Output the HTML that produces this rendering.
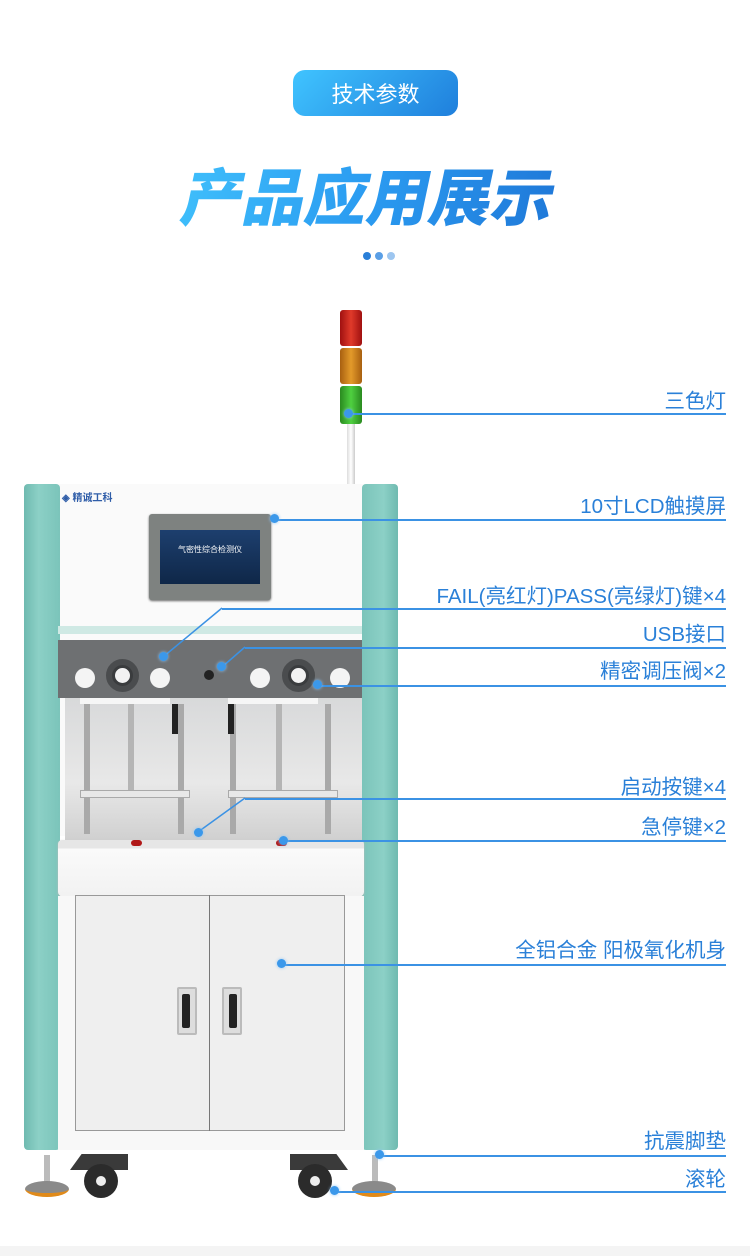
<!DOCTYPE html>
<html><head><meta charset="utf-8"><style>
*{margin:0;padding:0;box-sizing:border-box}
body{width:750px;height:1256px;position:relative;overflow:hidden;background:#fff;font-family:"Liberation Sans","Noto Sans CJK SC",sans-serif}
.a{position:absolute}
.lbl{position:absolute;right:24px;color:#2a80d8;font-size:20.5px;white-space:nowrap;line-height:22px}
.ln{position:absolute;height:1.5px;background:#3b92e4}
.dot{position:absolute;width:9px;height:9px;border-radius:50%;background:#3b98ea;box-shadow:0 0 3px #8cc4f5}
.btn{position:absolute;width:20px;height:20px;border-radius:50%;background:#f4f4f4}
</style></head><body>
<div class="a" style="left:293px;top:70px;width:165px;height:46px;border-radius:12px;background:linear-gradient(135deg,#40c4ff,#1f7fdc);color:#fff;font-size:22px;text-align:center;line-height:46px;font-family:'Noto Sans CJK SC',sans-serif">技术参数</div>
<div class="a" style="left:184px;top:153px;width:380px;font-size:62px;font-weight:900;line-height:80px;font-family:'Noto Sans CJK SC',sans-serif;transform:skewX(-12deg);background:linear-gradient(90deg,#3ebdfb,#2a9af0 50%,#1f78d8);-webkit-background-clip:text;color:transparent;white-space:nowrap">产品应用展示</div>
<div class="a" style="left:363px;top:252px;width:8px;height:8px;border-radius:50%;background:#2a7fd8"></div>
<div class="a" style="left:375px;top:252px;width:8px;height:8px;border-radius:50%;background:#5a9fe6"></div>
<div class="a" style="left:387px;top:252px;width:8px;height:8px;border-radius:50%;background:#9dc6f0"></div>

<div class="a" style="left:347px;top:422px;width:8px;height:62px;background:linear-gradient(90deg,#ddd,#fff,#ccc)"></div>
<div class="a" style="left:340px;top:310px;width:22px;height:36px;border-radius:3px;background:linear-gradient(90deg,#a01010,#e03a2a,#a01010)"></div>
<div class="a" style="left:340px;top:348px;width:22px;height:36px;border-radius:3px;background:linear-gradient(90deg,#a86010,#e39a2a,#a86010)"></div>
<div class="a" style="left:340px;top:386px;width:22px;height:38px;border-radius:3px;background:linear-gradient(90deg,#2a8a20,#4fd040,#2a8a20)"></div>

<div class="a" style="left:58px;top:484px;width:306px;height:352px;background:#fafafa"></div>
<div class="a" style="left:24px;top:484px;width:36px;height:666px;border-radius:4px;background:linear-gradient(90deg,#6fbab0,#8cd0c6 40%,#7bc4ba)"></div>
<div class="a" style="left:362px;top:484px;width:36px;height:666px;border-radius:4px;background:linear-gradient(90deg,#7bc4ba,#8cd0c6 60%,#6fbab0)"></div>
<div class="a" style="left:62px;top:489px;font-size:10px;color:#2f5da8;font-weight:bold">◈ 精诚工科</div>
<div class="a" style="left:149px;top:514px;width:122px;height:86px;border-radius:3px;background:#7e8280;box-shadow:0 1px 2px #666"></div>
<div class="a" style="left:160px;top:530px;width:100px;height:54px;background:linear-gradient(#1d3f6e,#0f2748);color:#fff;font-size:8px;text-align:center;padding-top:14px">气密性综合检测仪</div>
<div class="a" style="left:58px;top:626px;width:304px;height:8px;background:#cfe9e4"></div>
<div class="a" style="left:58px;top:640px;width:304px;height:58px;background:#6e7072"></div>
<div class="btn" style="left:75px;top:668px"></div>
<div class="btn" style="left:150px;top:668px"></div>
<div class="btn" style="left:250px;top:668px"></div>
<div class="btn" style="left:330px;top:668px"></div>
<div class="a" style="left:106px;top:659px;width:33px;height:33px;border-radius:50%;background:#3a3c3e;border:6px solid #4a4c4e"><div style="width:15px;height:15px;border-radius:50%;background:#f2f2f2;margin:3px"></div></div>
<div class="a" style="left:282px;top:659px;width:33px;height:33px;border-radius:50%;background:#3a3c3e;border:6px solid #4a4c4e"><div style="width:15px;height:15px;border-radius:50%;background:#f2f2f2;margin:3px"></div></div>
<div class="a" style="left:204px;top:670px;width:10px;height:10px;border-radius:50%;background:#222"></div>
<div class="a" style="left:65px;top:698px;width:297px;height:142px;background:linear-gradient(#d8d9da,#e8e8e8 60%,#d0d0d0)"></div>
<div class="a" style="left:80px;top:698px;width:90px;height:6px;background:#f6f6f6"></div>
<div class="a" style="left:228px;top:698px;width:90px;height:6px;background:#f6f6f6"></div>
<div class="a" style="left:84px;top:704px;width:6px;height:130px;background:#a9a9a9"></div>
<div class="a" style="left:178px;top:704px;width:6px;height:130px;background:#a9a9a9"></div>
<div class="a" style="left:230px;top:704px;width:6px;height:130px;background:#a9a9a9"></div>
<div class="a" style="left:325px;top:704px;width:6px;height:130px;background:#a9a9a9"></div>
<div class="a" style="left:128px;top:704px;width:6px;height:90px;background:#b5b5b5"></div>
<div class="a" style="left:276px;top:704px;width:6px;height:90px;background:#b5b5b5"></div>
<div class="a" style="left:172px;top:704px;width:6px;height:30px;background:#222"></div>
<div class="a" style="left:228px;top:704px;width:6px;height:30px;background:#222"></div>
<div class="a" style="left:80px;top:790px;width:110px;height:8px;background:#e8e8e8;border:1px solid #aaa"></div>
<div class="a" style="left:228px;top:790px;width:110px;height:8px;background:#e8e8e8;border:1px solid #aaa"></div>
<div class="a" style="left:58px;top:840px;width:306px;height:56px;border-radius:4px;background:linear-gradient(#e6e6e6 0,#e6e6e6 8px,#fafafa 9px,#f2f2f2);box-shadow:0 1px 2px #bbb"></div>
<div class="a" style="left:131px;top:840px;width:11px;height:6px;border-radius:3px;background:#b01818"></div>
<div class="a" style="left:276px;top:840px;width:11px;height:6px;border-radius:3px;background:#b01818"></div>
<div class="a" style="left:58px;top:896px;width:306px;height:254px;background:#f8f8f8"></div>
<div class="a" style="left:75px;top:895px;width:270px;height:236px;border:1px solid #999;background:#efefef"></div>
<div class="a" style="left:209px;top:895px;width:1px;height:236px;background:#777"></div>
<div class="a" style="left:177px;top:987px;width:20px;height:48px;border-radius:2px;background:#ddd;border:2px solid #bbb"><div style="width:8px;height:34px;margin:5px 3px;background:#222;border-radius:2px"></div></div>
<div class="a" style="left:222px;top:987px;width:20px;height:48px;border-radius:2px;background:#ddd;border:2px solid #bbb"><div style="width:8px;height:34px;margin:5px 5px;background:#222;border-radius:2px"></div></div>
<div class="a" style="left:70px;top:1154px;width:58px;height:16px;background:#3a3a3a;clip-path:polygon(20% 0,100% 0,100% 100%,0 100%)"></div>
<div class="a" style="left:290px;top:1154px;width:58px;height:16px;background:#3a3a3a;clip-path:polygon(0 0,80% 0,100% 100%,0 100%)"></div>
<div class="a" style="left:84px;top:1164px;width:34px;height:34px;border-radius:50%;background:#2b2b2b"><div style="width:10px;height:10px;border-radius:50%;background:#eee;margin:12px"></div></div>
<div class="a" style="left:298px;top:1164px;width:34px;height:34px;border-radius:50%;background:#2b2b2b"><div style="width:10px;height:10px;border-radius:50%;background:#eee;margin:12px"></div></div>
<div class="a" style="left:44px;top:1155px;width:6px;height:30px;background:#bbb"></div>
<div class="a" style="left:372px;top:1155px;width:6px;height:30px;background:#bbb"></div>
<div class="a" style="left:25px;top:1181px;width:44px;height:16px;border-radius:50%;background:#8a8a8a;border-bottom:4px solid #e08a1a"></div>
<div class="a" style="left:352px;top:1181px;width:44px;height:16px;border-radius:50%;background:#8a8a8a;border-bottom:4px solid #e08a1a"></div>
<div class="a" style="left:0;top:1246px;width:750px;height:10px;background:#f4f4f4"></div>

<div class="lbl" style="top:391px">三色灯</div><div class="ln" style="left:350px;top:413px;width:376px"></div><div class="dot" style="left:344px;top:409px"></div>
<div class="lbl" style="top:496px">10寸LCD触摸屏</div><div class="ln" style="left:274px;top:519px;width:452px"></div><div class="dot" style="left:270px;top:514px"></div>
<div class="lbl" style="top:586px">FAIL(亮红灯)PASS(亮绿灯)键×4</div><div class="ln" style="left:222px;top:608px;width:504px"></div>
<svg class="a" style="left:0;top:0" width="750" height="1256"><g stroke="#3b92e4" stroke-width="1.5"><line x1="222" y1="608" x2="163" y2="657"/><line x1="245" y1="647" x2="222" y2="667"/><line x1="245" y1="798" x2="198" y2="832"/></g></svg>
<div class="dot" style="left:159px;top:652px"></div>
<div class="lbl" style="top:624px">USB接口</div><div class="ln" style="left:245px;top:647px;width:481px"></div><div class="dot" style="left:217px;top:662px"></div>
<div class="lbl" style="top:661px">精密调压阀×2</div><div class="ln" style="left:318px;top:685px;width:408px"></div><div class="dot" style="left:313px;top:680px"></div>
<div class="lbl" style="top:777px">启动按键×4</div><div class="ln" style="left:245px;top:798px;width:481px"></div><div class="dot" style="left:194px;top:828px"></div>
<div class="lbl" style="top:817px">急停键×2</div><div class="ln" style="left:283px;top:840px;width:443px"></div><div class="dot" style="left:279px;top:836px"></div>
<div class="lbl" style="top:940px">全铝合金 阳极氧化机身</div><div class="ln" style="left:282px;top:964px;width:444px"></div><div class="dot" style="left:277px;top:959px"></div>
<div class="lbl" style="top:1131px">抗震脚垫</div><div class="ln" style="left:379px;top:1155px;width:347px"></div><div class="dot" style="left:375px;top:1150px"></div>
<div class="lbl" style="top:1169px">滚轮</div><div class="ln" style="left:334px;top:1191px;width:392px"></div><div class="dot" style="left:330px;top:1186px"></div>
</body></html>
